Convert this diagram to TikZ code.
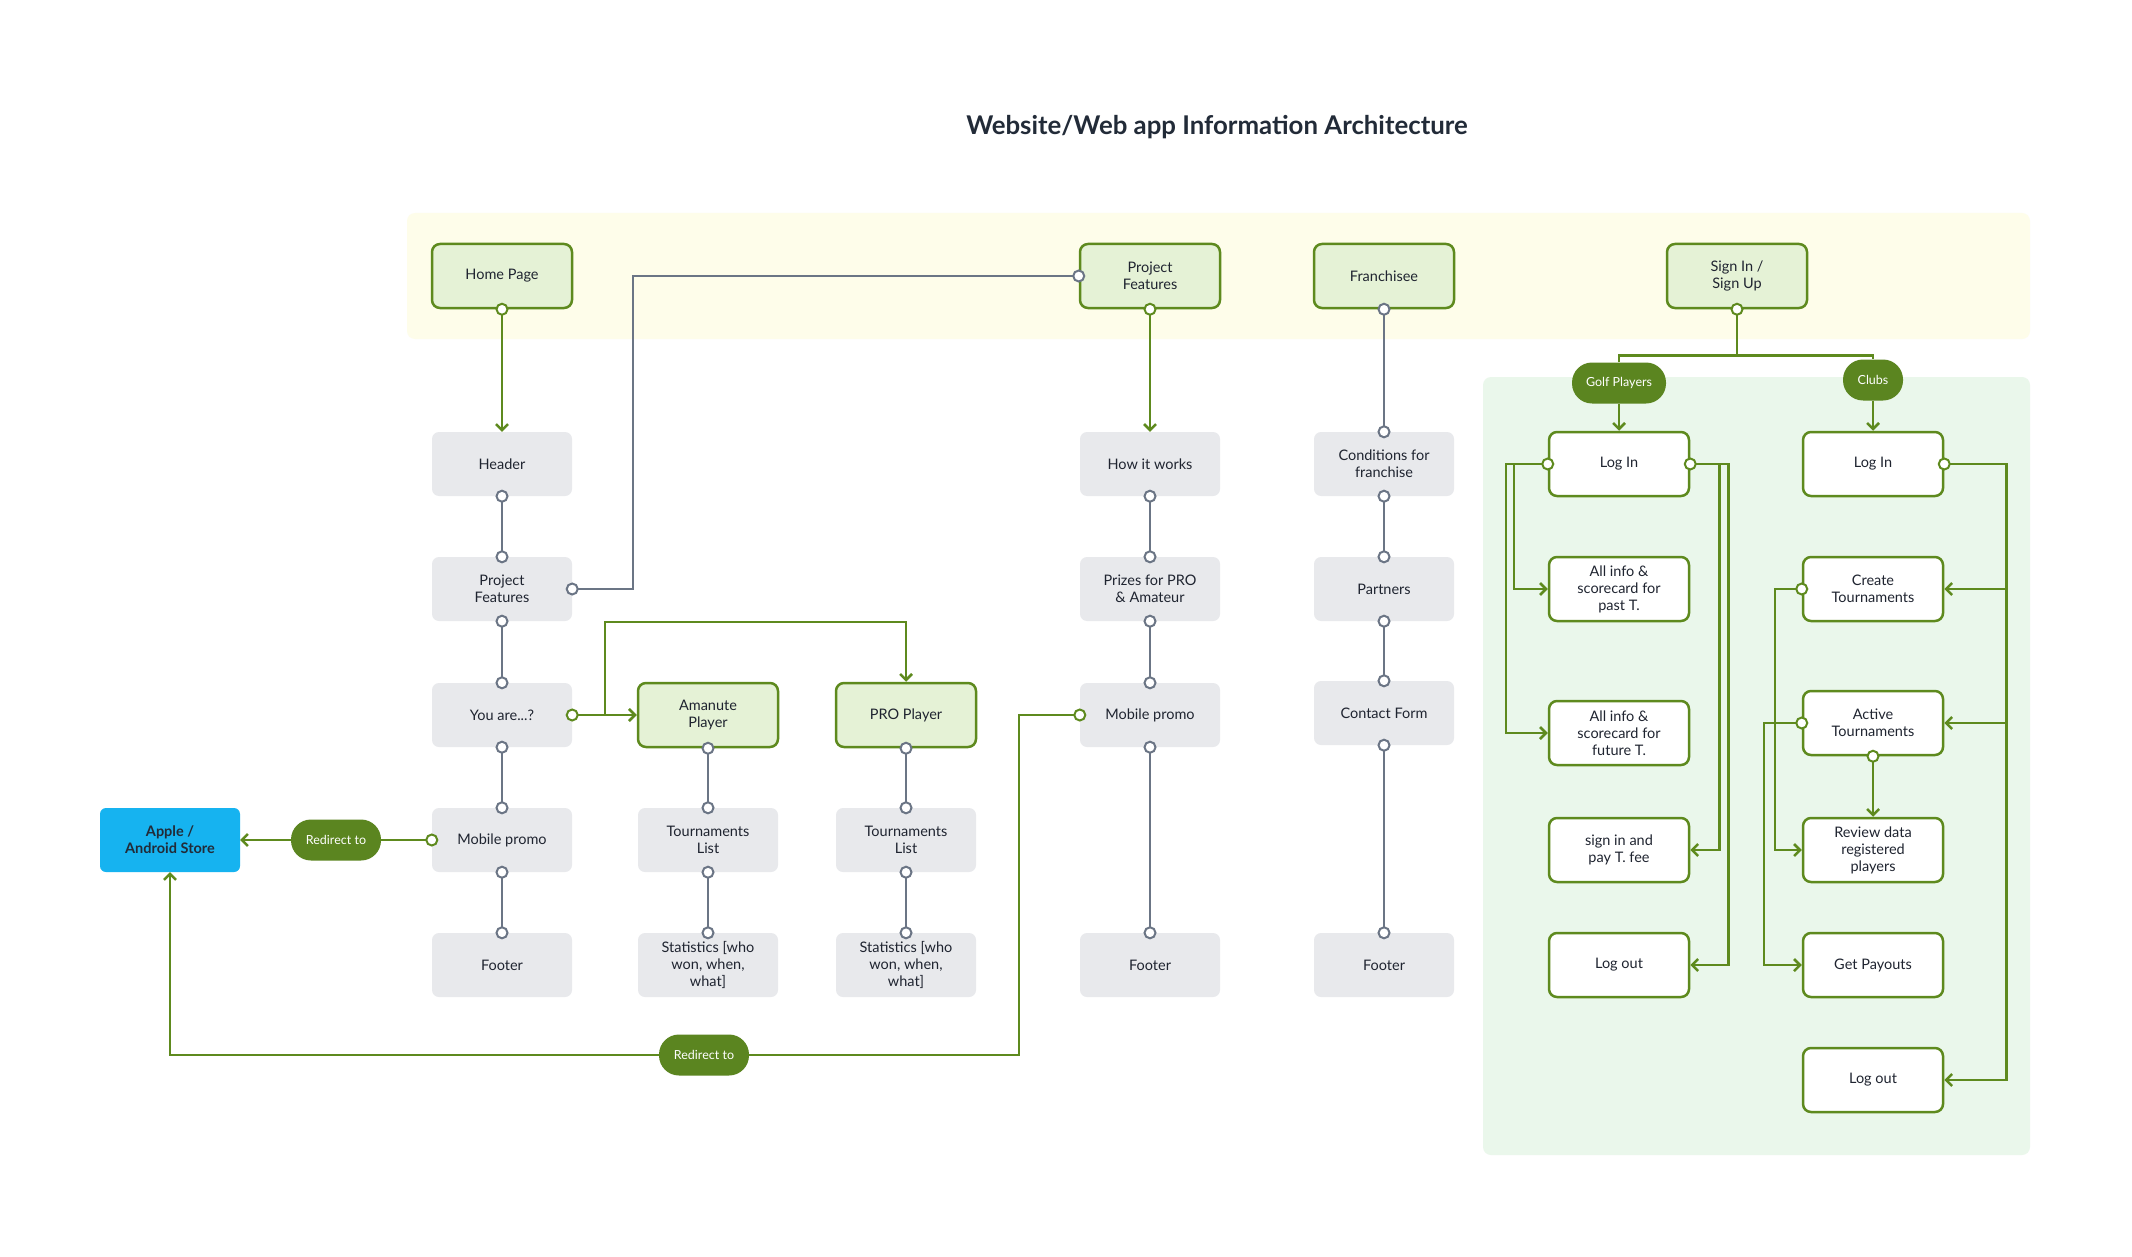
\documentclass[tikz,border=0pt]{standalone}
\usepackage{fontspec}
\setmainfont{Lato}
\usetikzlibrary{arrows.meta,calc}
\definecolor{lgreen}{HTML}{5E8A1E}
\definecolor{pillg}{HTML}{5B8520}
\definecolor{gfill}{HTML}{E5F2D6}
\definecolor{grfill}{HTML}{E8E9EC}
\definecolor{yband}{HTML}{FEFDEA}
\definecolor{gband}{HTML}{EAF7EB}
\definecolor{glinec}{HTML}{6B7585}
\definecolor{applec}{HTML}{16B3F0}
\definecolor{titlec}{HTML}{222B38}
\definecolor{txtc}{HTML}{1F2430}
\tikzset{
  basebox/.style={rectangle, minimum width=140pt, minimum height=64pt, inner sep=2pt, align=center, text=txtc, font=\fontsize{14.5}{17}\selectfont},
  gbox/.style={basebox, fill=gfill, draw=lgreen, line width=2.5pt, rounded corners=8pt},
  grbox/.style={basebox, fill=grfill, rounded corners=7pt},
  wbox/.style={basebox, fill=white, draw=lgreen, line width=2.5pt, rounded corners=8pt},
  pill/.style={rectangle, fill=pillg, text=white, minimum height=41pt, rounded corners=20pt, inner sep=0pt, font=\fontsize{12.5}{15}\selectfont},
  gport/.style={circle, draw=lgreen, fill=white, line width=2pt, inner sep=0pt, minimum size=11pt},
  yport/.style={circle, draw=glinec, fill=white, line width=2pt, inner sep=0pt, minimum size=11pt},
  gl/.style={draw=lgreen, line width=2.5pt},
  ga/.style={draw=lgreen, line width=2.5pt, -{Straight Barb[length=6pt,width=12pt,line width=2.5pt]}},
  yl/.style={draw=glinec, line width=2.5pt},
}
\begin{document}
\begin{tikzpicture}[x=1pt,y=-1pt]
\useasboundingbox (0,0) rectangle (2132,1257);
\fill[white] (0,0) rectangle (2132,1257);
% bands
\fill[yband, rounded corners=8pt] (407,213) rectangle (2030,339);
\fill[gband, rounded corners=8pt] (1483,377) rectangle (2030,1155);
% title
\node[font=\fontsize{25.8}{30}\selectfont\bfseries, text=titlec] (title) at (1217,127) {Website/Web app Information Architecture};

% column A
\node[gbox] (Home) at (502,276) {Home Page};
\node[grbox] (Header) at (502,464) {Header};
\node[grbox] (PF) at (502,589) {Project\\Features};
\node[grbox] (YouAre) at (502,715) {You are...?};
\node[grbox] (MobA) at (502,840) {Mobile promo};
\node[grbox] (FooterA) at (502,965) {Footer};
% column B, C
\node[gbox] (Amanute) at (708,715) {Amanute\\Player};
\node[grbox] (TLA) at (708,840) {Tournaments\\List};
\node[grbox] (StatA) at (708,965) {Statistics [who\\won, when,\\what]};
\node[gbox] (PRO) at (906,715) {PRO Player};
\node[grbox] (TLB) at (906,840) {Tournaments\\List};
\node[grbox] (StatB) at (906,965) {Statistics [who\\won, when,\\what]};
% column D
\node[gbox] (PFtop) at (1150,276) {Project\\Features};
\node[grbox] (HIW) at (1150,464) {How it works};
\node[grbox] (Prizes) at (1150,589) {Prizes for PRO\\\& Amateur};
\node[grbox] (MobD) at (1150,715) {Mobile promo};
\node[grbox] (FooterD) at (1150,965) {Footer};
% column E
\node[gbox] (Franch) at (1384,276) {Franchisee};
\node[grbox] (Cond) at (1384,464) {Conditions for\\franchise};
\node[grbox] (Partners) at (1384,589) {Partners};
\node[grbox] (Contact) at (1384,713) {Contact Form};
\node[grbox] (FooterE) at (1384,965) {Footer};
% sign in
\node[gbox] (SignIn) at (1737,276) {Sign In /\\Sign Up};
\node[pill, minimum width=94pt] (GP) at (1619,383) {Golf Players};
\node[pill, minimum width=60pt] (Clubs) at (1873,380) {Clubs};
\node[wbox] (LoginG) at (1619,464) {Log In};
\node[wbox] (Past) at (1619,589) {All info \&\\scorecard for\\past T.};
\node[wbox] (Future) at (1619,733) {All info \&\\scorecard for\\future T.};
\node[wbox] (Pay) at (1619,850) {sign in and\\pay T. fee};
\node[wbox] (LogoutG) at (1619,965) {Log out};
\node[wbox] (LoginC) at (1873,464) {Log In};
\node[wbox] (Create) at (1873,589) {Create\\Tournaments};
\node[wbox] (Active) at (1873,723) {Active\\Tournaments};
\node[wbox] (Review) at (1873,850) {Review data\\registered\\players};
\node[wbox] (Payouts) at (1873,965) {Get Payouts};
\node[wbox] (LogoutC) at (1873,1080) {Log out};
% apple + redirects
\node[basebox, fill=applec, rounded corners=6pt, text=titlec, font=\fontsize{14.5}{17}\selectfont\bfseries] (Apple) at (170,840) {Apple /\\Android Store};
\node[pill, minimum width=90pt] (R1) at (336,840) {Redirect to};
\node[pill, minimum width=90pt] (R2) at (704,1055) {Redirect to};

% gray connectors
\foreach \a/\b in {Header/PF, PF/YouAre, YouAre/MobA, MobA/FooterA, Amanute/TLA, TLA/StatA, PRO/TLB, TLB/StatB, HIW/Prizes, Prizes/MobD, MobD/FooterD, Franch/Cond, Cond/Partners, Partners/Contact, Contact/FooterE}{
  \draw[yl] (\a.south) -- (\b.north);
  \node[yport] at (\a.south) {};
  \node[yport] at (\b.north) {};
}
\draw[yl] (PF.east) -- ++(61,0) |- (PFtop.west);
\node[yport] at (PF.east) {};
\node[yport] at (PFtop.west) {};

% green arrows left part
\draw[ga] (Home.south) -- (Header.north);
\node[gport] at (Home.south) {};
\draw[ga] (PFtop.south) -- (HIW.north);
\node[gport] at (PFtop.south) {};
\draw[ga] (YouAre.east) -- (Amanute.west);
\draw[ga] ($(YouAre.east)+(33,0)$) |- ($(PRO.north)+(0,-60)$) -- (PRO.north);
\node[gport] at (YouAre.east) {};
\draw[gl] (MobA.west) -- (R1.east);
\draw[ga] (R1.west) -- (Apple.east);
\node[gport] at (MobA.west) {};
\coordinate (rd) at ($(MobD.west)+(-61,340)$);
\draw[gl] (MobD.west) -| (rd) -- (R2.east);
\draw[ga] (R2.west) -| (Apple.south);
\node[gport] at (MobD.west) {};

% sign in branches
\coordinate (br) at ($(SignIn.south)+(0,46)$);
\draw[gl] (SignIn.south) -- (br);
\draw[gl] (GP.north) |- (br) -| (Clubs.north);
\node[gport] at (SignIn.south) {};
\draw[ga] (GP.south) -- (LoginG.north);
\draw[ga] (Clubs.south) -- (LoginC.north);

% golf players
\draw[ga] (LoginG.west) -- ++(-34,0) |- (Past.west);
\draw[ga] (LoginG.west) -- ++(-42,0) |- (Future.west);
\draw[ga] (LoginG.east) -- ++(29,0) |- (Pay.east);
\draw[ga] (LoginG.east) -- ++(38,0) |- (LogoutG.east);
\node[gport] at (LoginG.west) {};
\node[gport] at (LoginG.east) {};

% clubs
\coordinate (cr) at ($(LoginC.east)+(62,0)$);
\draw[ga] (LoginC.east) -- (cr) |- (LogoutC.east);
\draw[ga] (cr |- Create.east) -- (Create.east);
\draw[ga] (cr |- Active.east) -- (Active.east);
\draw[ga] (Create.west) -- ++(-27,0) |- (Review.west);
\draw[ga] (Active.west) -- ++(-38,0) |- (Payouts.west);
\draw[ga] (Active.south) -- (Review.north);
\node[gport] at (LoginC.east) {};
\node[gport] at (Create.west) {};
\node[gport] at (Active.west) {};
\node[gport] at (Active.south) {};
\end{tikzpicture}
\end{document}
